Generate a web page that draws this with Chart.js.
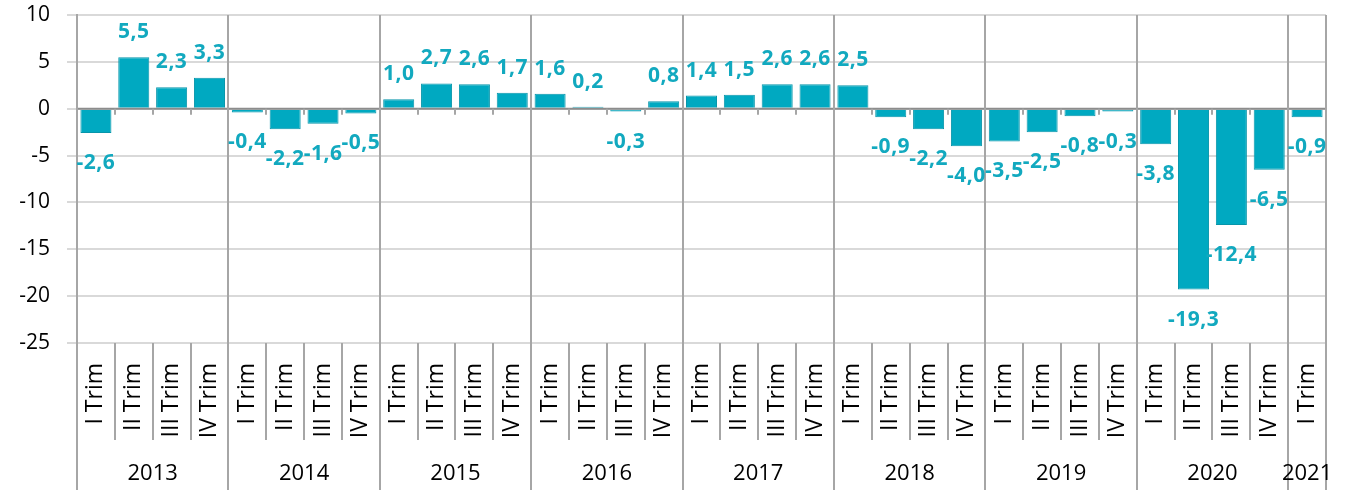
<!DOCTYPE html>
<html><head><meta charset="utf-8">
<script src="https://cdn.jsdelivr.net/npm/chart.js@4"></script>
<style>html,body{margin:0;padding:0;background:#fff}</style>
</head><body>
<canvas id="c" width="1352" height="490"></canvas>
<script>
const quarterNames = ['I Trim', 'II Trim', 'III Trim', 'IV Trim'];
const yearLabels = ['2013', '2014', '2015', '2016', '2017', '2018', '2019', '2020', '2021'];
const quartersPerYear = [4, 4, 4, 4, 4, 4, 4, 4, 1];
const growth = [
  -2.6, 5.5, 2.3, 3.3,
  -0.4, -2.2, -1.6, -0.5,
  1.0, 2.7, 2.6, 1.7,
  1.6, 0.2, -0.3, 0.8,
  1.4, 1.5, 2.6, 2.6,
  2.5, -0.9, -2.2, -4.0,
  -3.5, -2.5, -0.8, -0.3,
  -3.8, -19.3, -12.4, -6.5,
  -0.9
];
const yTicks = [10, 5, 0, -5, -10, -15, -20, -25];

const categories = [];
quartersPerYear.forEach(n => { for (let q = 0; q < n; q++) categories.push(quarterNames[q]); });

const LABEL_COLOR = '#12A9BF';
const LINE_GRAY = '#a6a6a6';

const overlay = {
  id: 'overlay',
  afterDatasetsDraw(chart) {
    const ctx = chart.ctx, xs = chart.scales.x, ys = chart.scales.y, a = chart.chartArea;
    const cw = xs.getPixelForValue(1) - xs.getPixelForValue(0);
    const y0 = ys.getPixelForValue(0);
    const H = chart.height;
    ctx.save();
    ctx.strokeStyle = '#8c8c8c'; ctx.lineWidth = 2;
    ctx.beginPath(); ctx.moveTo(a.left, y0); ctx.lineTo(a.right, y0); ctx.stroke();
    ctx.strokeStyle = LINE_GRAY; ctx.lineWidth = 2;
    for (let i = 1; i < categories.length; i++) {
      const px = Math.round(xs.getPixelForValue(i) - cw / 2);
      ctx.beginPath(); ctx.moveTo(px, y0); ctx.lineTo(px, y0 + 6); ctx.stroke();
    }
    const yearStart = new Set();
    let idx = 0;
    quartersPerYear.forEach(n => { yearStart.add(idx); idx += n; });
    yearStart.add(idx);
    for (let i = 0; i <= categories.length; i++) {
      const px = Math.round(xs.getPixelForValue(i) - cw / 2);
      ctx.beginPath();
      if (yearStart.has(i)) { ctx.moveTo(px, a.top); ctx.lineTo(px, H); }
      else { ctx.moveTo(px, a.bottom); ctx.lineTo(px, a.bottom + 97); }
      ctx.stroke();
    }
    ctx.fillStyle = '#000';
    ctx.font = '22px "Open Sans"';
    ctx.textAlign = 'center'; ctx.textBaseline = 'middle';
    idx = 0;
    quartersPerYear.forEach((n, k) => {
      const cx = (xs.getPixelForValue(idx) + xs.getPixelForValue(idx + n - 1)) / 2;
      ctx.fillText(yearLabels[k], cx, 474);
      idx += n;
    });
    ctx.fillStyle = LABEL_COLOR;
    ctx.font = 'bold 21px "Open Sans"';
    try { ctx.letterSpacing = '0.5px'; } catch (e) {}
    const meta = chart.getDatasetMeta(0);
    meta.data.forEach((el, i) => {
      const v = growth[i];
      const txt = v.toFixed(1).replace('.', ',');
      const cy = v >= 0 ? el.y - 25 : el.y + 30;
      ctx.fillText(txt, el.x, cy);
    });
    ctx.restore();
  }
};

new Chart(document.getElementById('c'), {
  type: 'bar',
  data: {
    labels: categories,
    datasets: [{
      data: growth,
      backgroundColor: '#00A9C1',
      borderColor: '#0795AA',
      borderWidth: 1,
      barPercentage: 0.82,
      categoryPercentage: 1
    }]
  },
  options: {
    responsive: false,
    animation: false,
    devicePixelRatio: 1,
    layout: { padding: { top: 15, right: 26, left: 0, bottom: 0 } },
    plugins: { legend: { display: false }, tooltip: { enabled: false } },
    scales: {
      x: {
        grid: { display: false },
        border: { display: false },
        ticks: {
          minRotation: 90, maxRotation: 90, autoSkip: false, padding: 12,
          font: { family: 'Open Sans', size: 23 }, color: '#000'
        },
        afterFit(s) { s.height = 147; s.paddingLeft = 0; s.paddingRight = 0; }
      },
      y: {
        min: -25, max: 10,
        afterBuildTicks(s) { s.ticks = yTicks.map(v => ({ value: v })); },
        ticks: {
          padding: 17, font: { family: 'Open Sans', size: 21 }, color: '#000',
          callback: v => String(v)
        },
        grid: { color: '#d9d9d9', lineWidth: 2, tickLength: 10 },
        border: { color: LINE_GRAY, width: 2 },
        afterFit(s) { s.width = 77; s.paddingTop = 0; s.paddingBottom = 0; }
      }
    }
  },
  plugins: [overlay]
});
</script>
</body></html>
